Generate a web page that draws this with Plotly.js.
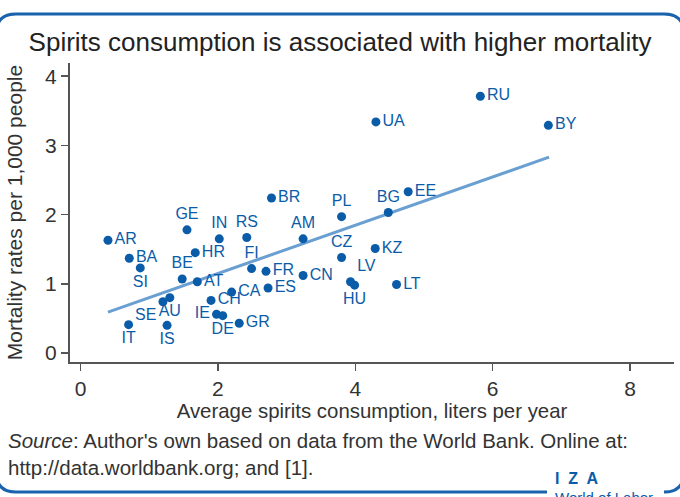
<!DOCTYPE html>
<html>
<head>
<meta charset="utf-8">
<script src="https://cdn.plot.ly/plotly-3.0.1.min.js"></script>
<style>
  html, body { margin: 0; padding: 0; background: #ffffff; }
  #chart { width: 680px; height: 497px; }
</style>
</head>
<body>
<div id="chart"></div>
<script>
// ---- Data ----
const countries = ['AR','BA','SI','GE','IN','RS','HR','BE','AT','FI','FR','CN','AM','PL','CZ','LV','HU','CA','ES','CH','AU','SE','IE','DE','GR','IT','IS','KZ','LT','BG','EE','UA','RU','BY','BR'];
const spirits   = [0.40,0.71,0.87,1.55,2.02,2.42,1.67,1.48,1.70,2.49,2.70,3.24,3.24,3.80,3.80,3.93,3.99,2.20,2.73,1.90,1.30,1.20,1.98,2.07,2.31,0.70,1.26,4.29,4.60,4.48,4.77,4.30,5.82,6.81,2.78];
const mortality = [1.63,1.37,1.23,1.78,1.65,1.67,1.45,1.07,1.03,1.22,1.18,1.12,1.65,1.97,1.38,1.03,0.98,0.88,0.94,0.76,0.80,0.74,0.56,0.54,0.43,0.41,0.40,1.51,0.99,2.03,2.33,3.34,3.71,3.29,2.24];
const labelPos  = ['middle right','middle right','bottom center','top center','top center','top center','middle right','top center','middle right','top center','middle right','middle right','top center','top center','top center','top right','bottom center','middle right','middle right','middle right','bottom center','bottom left','middle left','bottom center','middle right','bottom center','bottom center','middle right','middle right','top center','middle right','middle right','middle right','middle right','middle right'];

// fitted line endpoints
const fitX = [0.40, 6.82];
const fitY = [0.59, 2.83];

const xTicks = [0, 2, 4, 6, 8];
const yTicks = [0, 1, 2, 3, 4];

// ---- Styling ----
const DOT = '#0a5ca8';
const LINE = '#6a9fd1';
const FRAME = '#1962ad';
const TEXT = '#333333';
const FONT = '"Liberation Sans", Arial, sans-serif';

const W = 680, H = 497;
const M = {l: 70, r: 6, t: 63, b: 135};
const PW = W - M.l - M.r, PH = H - M.t - M.b;
function P(px, py) { return ((px - M.l) / PW).toFixed(4) + ',' + ((H - M.b - py) / PH).toFixed(4); }

// rounded frame (open at the bottom right for the logo)
const L = -4, R = 684, T = 14, B = 492, rad = 20;
const framePath =
  'M' + P(547, B) + ' L' + P(L + rad, B) + ' Q' + P(L, B) + ' ' + P(L, B - rad) +
  ' L' + P(L, T + rad) + ' Q' + P(L, T) + ' ' + P(L + rad, T) +
  ' L' + P(R - rad, T) + ' Q' + P(R, T) + ' ' + P(R, T + rad) +
  ' L' + P(R, B - rad) + ' Q' + P(R, B) + ' ' + P(R - rad, B) +
  ' L' + P(664, B);

const traces = [
  {
    x: fitX, y: fitY, type: 'scatter', mode: 'lines',
    line: {color: LINE, width: 3}, hoverinfo: 'skip', showlegend: false
  },
  {
    x: spirits, y: mortality, text: countries, type: 'scatter', mode: 'markers+text',
    textposition: labelPos,
    marker: {color: DOT, size: 9},
    textfont: {family: FONT, size: 16, color: DOT},
    showlegend: false, cliponaxis: false
  }
];

const layout = {
  width: W, height: H,
  margin: M,
  paper_bgcolor: '#ffffff', plot_bgcolor: '#ffffff',
  font: {family: FONT, color: TEXT},
  title: {
    text: 'Spirits consumption is associated with higher mortality',
    font: {family: FONT, size: 26, color: '#222222'},
    xref: 'container', yref: 'container', x: 0.5, y: 1 - 42 / H,
    xanchor: 'center', yanchor: 'middle'
  },
  xaxis: {
    range: [-0.153, 8.639], tickvals: xTicks, ticktext: xTicks.map(String),
    showgrid: false, zeroline: false, showline: true, linecolor: '#555555', linewidth: 2,
    ticks: 'outside', ticklen: 7, tickwidth: 1.5, tickcolor: '#555555',
    tickfont: {family: FONT, size: 21, color: TEXT},
    title: {text: 'Average spirits consumption, liters per year', font: {family: FONT, size: 20.4, color: TEXT}, standoff: 4}
  },
  yaxis: {
    range: [-0.130, 4.191], tickvals: yTicks, ticktext: yTicks.map(String),
    showgrid: false, zeroline: false, showline: true, linecolor: '#555555', linewidth: 2,
    ticks: 'outside', ticklen: 7, tickwidth: 1.5, tickcolor: '#555555',
    tickfont: {family: FONT, size: 21, color: TEXT},
    title: {text: 'Mortality rates per 1,000 people', font: {family: FONT, size: 21, color: TEXT}, standoff: 17}
  },
  shapes: [
    {type: 'path', xref: 'paper', yref: 'paper', path: framePath, line: {color: FRAME, width: 3}, layer: 'above'}
  ],
  annotations: [
    {
      text: '<i>Source</i>: Author\'s own based on data from the World Bank. Online at:<br>http://data.worldbank.org; and [1].',
      xref: 'paper', yref: 'paper', x: (6 - M.l) / PW, y: (H - M.b - 427) / PH,
      xanchor: 'left', yanchor: 'top', align: 'left', showarrow: false,
      font: {family: FONT, size: 20.5, color: TEXT}
    },
    {
      text: '<b>I  Z  A</b>',
      xref: 'paper', yref: 'paper', x: (553 - M.l) / PW, y: (H - M.b - 478) / PH,
      xanchor: 'left', yanchor: 'middle', showarrow: false,
      font: {family: FONT, size: 16, color: DOT}
    },
    {
      text: 'World of Labor',
      xref: 'paper', yref: 'paper', x: (553 - M.l) / PW, y: (H - M.b - 487) / PH,
      xanchor: 'left', yanchor: 'top', showarrow: false,
      font: {family: FONT, size: 15, color: DOT}
    }
  ]
};

Plotly.newPlot('chart', traces, layout, {displayModeBar: false, staticPlot: true});
</script>
</body>
</html>
